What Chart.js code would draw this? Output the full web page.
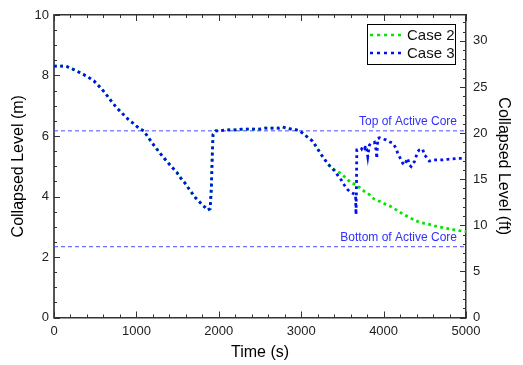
<!DOCTYPE html>
<html>
<head>
<meta charset="utf-8">
<script src="https://cdn.jsdelivr.net/npm/chart.js@4.4.1/dist/chart.umd.min.js"></script>
<style>
  html, body { margin: 0; padding: 0; background: #fff; }
  #wrap { width: 523px; height: 365px; }
</style>
</head>
<body>
<div id="wrap"><canvas id="level-chart" width="523" height="365"></canvas></div>
<script>
// values (time in s, level in m)
const case3Time = [0, 145, 230, 327, 412, 485, 545, 580, 630, 703, 763, 824, 897, 957, 1030, 1090, 1150, 1211,
    1284, 1345, 1418, 1490, 1538, 1599, 1648, 1720, 1781, 1841, 1866, 1895, 1910, 1920, 1930, 1963, 2011, 2072,
    2144, 2217, 2290, 2411, 2496, 2556, 2617, 2726, 2774, 2823, 2883, 2944, 2980, 3029, 3077, 3138, 3186, 3247,
    3307, 3356, 3404, 3444, 3485, 3525, 3566, 3606, 3647, 3660, 3665, 3670, 3675, 3728, 3747, 3768, 3788, 3808,
    3828, 3849, 3868, 3889, 3909, 3917, 3929, 3950, 3989, 4031, 4071, 4111, 4152, 4171, 4192, 4212, 4232, 4252,
    4273, 4292, 4313, 4333, 4353, 4374, 4394, 4414, 4434, 4474, 4495, 4515, 4555, 4595, 4656, 4716, 4777, 4837,
    4898, 5000];
const case3Level = [8.31, 8.31, 8.21, 8.08, 7.95, 7.82, 7.65, 7.55, 7.39, 7.12, 6.93, 6.76, 6.56, 6.43, 6.26, 6.17, 5.93, 5.70,
    5.44, 5.24, 5.01, 4.80, 4.61, 4.41, 4.21, 3.95, 3.78, 3.62, 3.55, 3.60, 4.30, 5.30, 6.05, 6.17, 6.17, 6.20,
    6.20, 6.20, 6.23, 6.23, 6.23, 6.26, 6.26, 6.26, 6.30, 6.26, 6.23, 6.20, 6.17, 6.07, 5.96, 5.83, 5.63, 5.37,
    5.14, 4.98, 4.85, 4.70, 4.55, 4.37, 4.22, 4.13, 4.08, 4.06, 3.40, 4.20, 5.54, 5.54, 5.65, 5.59, 5.68, 5.32,
    5.70, 5.76, 5.76, 5.79, 5.54, 5.26, 5.92, 5.94, 5.90, 5.87, 5.81, 5.76, 5.59, 5.43, 5.32, 5.21, 5.10, 5.04,
    5.15, 5.26, 5.04, 4.99, 5.10, 5.15, 5.32, 5.48, 5.54, 5.57, 5.37, 5.32, 5.17, 5.21, 5.21, 5.21, 5.23, 5.24,
    5.26, 5.26];
const case2Time = [0, 145, 230, 327, 412, 485, 545, 580, 630, 703, 763, 824, 897, 957, 1030, 1090, 1150, 1211,
    1284, 1345, 1418, 1490, 1538, 1599, 1648, 1720, 1781, 1841, 1866, 1895, 1910, 1920, 1930, 1963, 2011, 2072,
    2144, 2217, 2290, 2411, 2496, 2556, 2617, 2726, 2774, 2823, 2883, 2944, 2980, 3029, 3077, 3138, 3186, 3247,
    3307, 3356, 3404, 3444, 3485, 3546, 3606, 3659, 3707, 3762, 3828, 3883, 3950, 4010, 4071, 4131, 4192, 4252,
    4313, 4374, 4434, 4495, 4555, 4616, 4676, 4737, 4798, 4858, 4919, 5000];
const case2Level = [8.31, 8.31, 8.21, 8.08, 7.95, 7.82, 7.65, 7.55, 7.39, 7.12, 6.93, 6.76, 6.56, 6.43, 6.26, 6.17, 5.93, 5.70,
    5.44, 5.24, 5.01, 4.80, 4.61, 4.41, 4.21, 3.95, 3.78, 3.62, 3.55, 3.60, 4.30, 5.30, 6.05, 6.17, 6.17, 6.20,
    6.20, 6.20, 6.23, 6.23, 6.23, 6.26, 6.26, 6.26, 6.30, 6.26, 6.23, 6.20, 6.17, 6.07, 5.96, 5.83, 5.63, 5.37,
    5.14, 4.98, 4.88, 4.82, 4.76, 4.60, 4.45, 4.40, 4.30, 4.18, 4.06, 3.92, 3.84, 3.76, 3.69, 3.60, 3.49, 3.39,
    3.31, 3.22, 3.15, 3.11, 3.08, 3.03, 2.99, 2.96, 2.93, 2.90, 2.87, 2.84];

const coreLevels = [6.17, 2.34];
const coreLabels = ['Top of Active Core', 'Bottom of Active Core'];

const timeTicks = [0, 1000, 2000, 3000, 4000, 5000];
const meterTicks = [0, 2, 4, 6, 8, 10];
const feetTicks = [0, 5, 10, 15, 20, 25, 30];
const M_TO_FT = 1 / 0.3048;

function toPoints(xs, ys) {
    return xs.map((x, i) => ({x: x, y: ys[i]}));
}

Chart.defaults.font.family = 'Arial, "Liberation Sans", sans-serif';
Chart.defaults.color = '#222';

// ticks pointing into the plot, on all four sides
const frameTicks = {
    id: 'frameTicks',
    afterDraw(chart) {
        const {ctx, chartArea: a, scales} = chart;
        ctx.save();
        ctx.strokeStyle = '#333';
        ctx.lineWidth = 1;
        ctx.beginPath();
        for (let v = 0; v <= 5000; v += 200) {
            const px = Math.round(scales.x.getPixelForValue(v)) + 0.5;
            const len = v % 1000 === 0 ? 6 : 3;
            ctx.moveTo(px, a.bottom); ctx.lineTo(px, a.bottom - len);
            ctx.moveTo(px, a.top); ctx.lineTo(px, a.top + len);
        }
        for (let v = 0; v <= 10; v += 0.5) {
            const py = Math.round(scales.y.getPixelForValue(v)) + 0.5;
            const len = v % 2 === 0 ? 6 : 3;
            ctx.moveTo(a.left, py); ctx.lineTo(a.left + len, py);
        }
        for (let v = 0; v <= 32; v += 1) {
            const py = Math.round(scales.y2.getPixelForValue(v)) + 0.5;
            const len = v % 5 === 0 ? 6 : 3;
            ctx.moveTo(a.right, py); ctx.lineTo(a.right - len, py);
        }
        ctx.stroke();
        ctx.restore();
    }
};

const coreText = {
    id: 'coreText',
    afterDatasetsDraw(chart) {
        const {ctx, chartArea: a, scales} = chart;
        ctx.save();
        ctx.font = '12px Arial, "Liberation Sans", sans-serif';
        ctx.fillStyle = '#3030ff';
        ctx.textAlign = 'right';
        ctx.textBaseline = 'middle';
        coreLevels.forEach((lvl, i) => {
            const py = scales.y.getPixelForValue(lvl);
            ctx.fillText(coreLabels[i], a.right - 9, py - 9);
        });
        ctx.restore();
    }
};

const boxLegend = {
    id: 'boxLegend',
    afterDraw(chart) {
        const {ctx, chartArea: a} = chart;
        const items = chart.data.datasets.filter(d => d.inLegend);
        const right = a.right - 11, top = a.top + 9, w = 88, h = 40;
        ctx.save();
        ctx.fillStyle = '#fff';
        ctx.fillRect(right - w, top, w, h);
        ctx.strokeStyle = '#000';
        ctx.lineWidth = 1;
        ctx.strokeRect(right - w + 0.5, top + 0.5, w, h);
        ctx.font = '15px Arial, "Liberation Sans", sans-serif';
        ctx.textBaseline = 'middle';
        items.forEach((d, i) => {
            const y = top + 11 + i * 18;
            ctx.strokeStyle = d.borderColor;
            ctx.lineWidth = 2.5;
            ctx.setLineDash([3, 4]);
            ctx.beginPath();
            ctx.moveTo(right - w + 3, y);
            ctx.lineTo(right - w + 36, y);
            ctx.stroke();
            ctx.setLineDash([]);
            ctx.fillStyle = '#111';
            ctx.fillText(d.label, right - w + 40, y + 1);
        });
        ctx.restore();
    }
};

const refLine = (lvl) => ({
    label: '',
    data: [{x: 0, y: lvl}, {x: 5000, y: lvl}],
    borderColor: '#4b4bff',
    borderWidth: 1,
    borderDash: [4, 3],
    order: 3
});

const plainNumber = v => String(v);

new Chart(document.getElementById('level-chart'), {
    type: 'line',
    data: {
        datasets: [
            {
                label: 'Case 2',
                inLegend: true,
                data: toPoints(case2Time, case2Level),
                borderColor: '#00e600',
                borderWidth: 2.8,
                borderDash: [2.8, 3.4],
                order: 1
            },
            {
                label: 'Case 3',
                inLegend: true,
                data: toPoints(case3Time, case3Level),
                borderColor: '#0010f0',
                borderWidth: 2.8,
                borderDash: [2.8, 3.4],
                order: 0
            },
            refLine(coreLevels[0]),
            refLine(coreLevels[1])
        ]
    },
    options: {
        responsive: false,
        animation: false,
        devicePixelRatio: 1,
        layout: {padding: 0},
        elements: {
            point: {radius: 0},
            line: {tension: 0, borderCapStyle: 'butt'}
        },
        plugins: {
            legend: {display: false},
            tooltip: {enabled: false}
        },
        scales: {
            x: {
                type: 'linear',
                position: 'bottom',
                min: 0,
                max: 5000,
                afterBuildTicks: s => { s.ticks = timeTicks.map(v => ({value: v})); },
                afterFit: s => { s.height = 47.5; },
                grid: {display: false, drawTicks: false},
                border: {display: true, color: '#333', width: 1.5},
                ticks: {font: {size: 13}, padding: 6, maxRotation: 0, callback: plainNumber},
                title: {display: true, text: 'Time (s)', font: {size: 16}, color: '#000', padding: {top: 0, bottom: 3}}
            },
            x2: {
                type: 'linear',
                position: 'top',
                min: 0,
                max: 5000,
                afterFit: s => { s.height = 15; },
                grid: {display: false, drawTicks: false},
                border: {display: true, color: '#333', width: 1.5},
                ticks: {display: false}
            },
            y: {
                type: 'linear',
                position: 'left',
                min: 0,
                max: 10,
                afterBuildTicks: s => { s.ticks = meterTicks.map(v => ({value: v})); },
                afterFit: s => { s.width = 54; },
                grid: {display: false, drawTicks: false},
                border: {display: true, color: '#555', width: 2},
                ticks: {font: {size: 13}, padding: 5, callback: plainNumber},
                title: {display: true, text: 'Collapsed Level (m)', font: {size: 16}, color: '#000', padding: {top: 9, bottom: 0}}
            },
            y2: {
                type: 'linear',
                position: 'right',
                min: 0,
                max: 10 * M_TO_FT,
                afterBuildTicks: s => { s.ticks = feetTicks.map(v => ({value: v})); },
                afterFit: s => { s.width = 57; },
                grid: {display: false, drawTicks: false},
                border: {display: true, color: '#333', width: 1.5},
                ticks: {font: {size: 13}, padding: 7, callback: plainNumber},
                title: {display: true, text: 'Collapsed Level (ft)', font: {size: 16}, color: '#000', padding: {top: 10, bottom: 0}}
            }
        }
    },
    plugins: [frameTicks, coreText, boxLegend]
});
</script>
</body>
</html>
